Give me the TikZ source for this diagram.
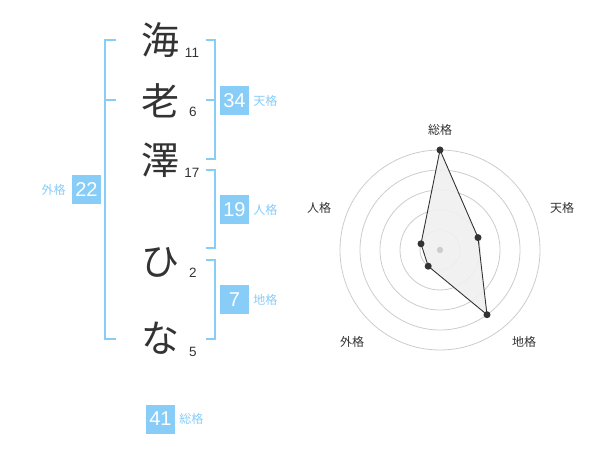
\documentclass[tikz,border=0pt]{standalone}
\usepackage{fontspec}
\setmainfont{Liberation Sans}
\newfontfamily\cjk{Noto Sans CJK JP}
\definecolor{skyb}{RGB}{136,204,248}
\definecolor{ink}{RGB}{51,51,51}
\definecolor{ring}{RGB}{204,204,204}
\begin{document}
\begin{tikzpicture}[x=1pt,y=-1pt,
  kanji/.style={font=\cjk\fontsize{38}{40}\selectfont,text=ink,inner sep=0pt},
  strokes/.style={font=\fontsize{13.5}{15}\selectfont,text=ink,inner sep=0pt},
  scorebox/.style={fill=skyb,text=white,minimum width=29pt,minimum height=29pt,inner sep=0pt,font=\fontsize{20}{22}\selectfont},
  kaku/.style={text=skyb,font=\cjk\fontsize{12}{13}\selectfont,inner sep=0pt},
  brk/.style={draw=skyb,line width=2pt},
  radlab/.style={text=ink,font=\cjk\fontsize{12}{13}\selectfont,inner sep=0pt},
  ringline/.style={draw=ring,line width=0.8pt},
  vdot/.style={circle,fill=ink,inner sep=0pt,minimum size=7pt}]
\useasboundingbox (0,0) rectangle (600,470);
% characters
\node[kanji] (c1) at (160,40) {海};
\node[kanji] (c2) at (160,101) {老};
\node[kanji] (c3) at (160,160) {澤};
\node[kanji] (c4) at (160,262) {ひ};
\node[kanji] (c5) at (160,338) {な};
% stroke counts
\node[strokes] (n1) at (192,53) {11};
\node[strokes] (n2) at (193,112) {6};
\node[strokes] (n3) at (192,173) {17};
\node[strokes] (n4) at (193,273) {2};
\node[strokes] (n5) at (193,352) {5};
% brackets
\draw[brk] (116,40) -- (105,40) -- (105,339) -- (116,339);
\draw[brk] (105,100) -- (116,100);
\draw[brk] (206,40) -- (215,40) -- (215,159) -- (206,159);
\draw[brk] (215,100) -- (206,100);
\draw[brk] (206,170) -- (215,170) -- (215,248) -- (206,248);
\draw[brk] (206,260) -- (215,260) -- (215,339) -- (206,339);
% score boxes
\node[scorebox] (b34) at (234.5,100.5) {34};
\node[kaku,anchor=west] (l34) at ([xshift=4pt]b34.east) {天格};
\node[scorebox] (b19) at (234.5,210) {19};
\node[kaku,anchor=west] (l19) at ([xshift=4pt]b19.east) {人格};
\node[scorebox] (b7) at (234.5,300) {7};
\node[kaku,anchor=west] (l7) at ([xshift=4pt]b7.east) {地格};
\node[scorebox] (b22) at (86.5,190) {22};
\node[kaku,anchor=east] (l22) at ([xshift=-6pt]b22.west) {外格};
\node[scorebox] (b41) at (160.5,419) {41};
\node[kaku,anchor=west] (l41) at ([xshift=4pt]b41.east) {総格};
% radar
\coordinate (ctr) at (440,250);
\foreach \r in {20,40,60,80,100} \draw[ringline] (ctr) circle (\r);
\coordinate (vs) at (440,150);
\coordinate (vt) at (478.0,237.6);
\coordinate (vc) at (487.0,314.7);
\coordinate (vg) at (428.2,266.2);
\coordinate (vj) at (421.0,243.8);
\filldraw[fill=black!6,fill opacity=0.9,draw=ink,line width=0.9pt] (vs) -- (vt) -- (vc) -- (vg) -- (vj) -- cycle;
\fill[ring] (ctr) circle (3.2);
\foreach \v in {vs,vt,vc,vg,vj} \node[vdot] at (\v) {};
\node[radlab] (rs) at (440,130) {総格};
\node[radlab] (rt) at (562,208) {天格};
\node[radlab] (rc) at (524,342) {地格};
\node[radlab] (rg) at (352,342) {外格};
\node[radlab] (rj) at (319,208) {人格};
\end{tikzpicture}
\end{document}
